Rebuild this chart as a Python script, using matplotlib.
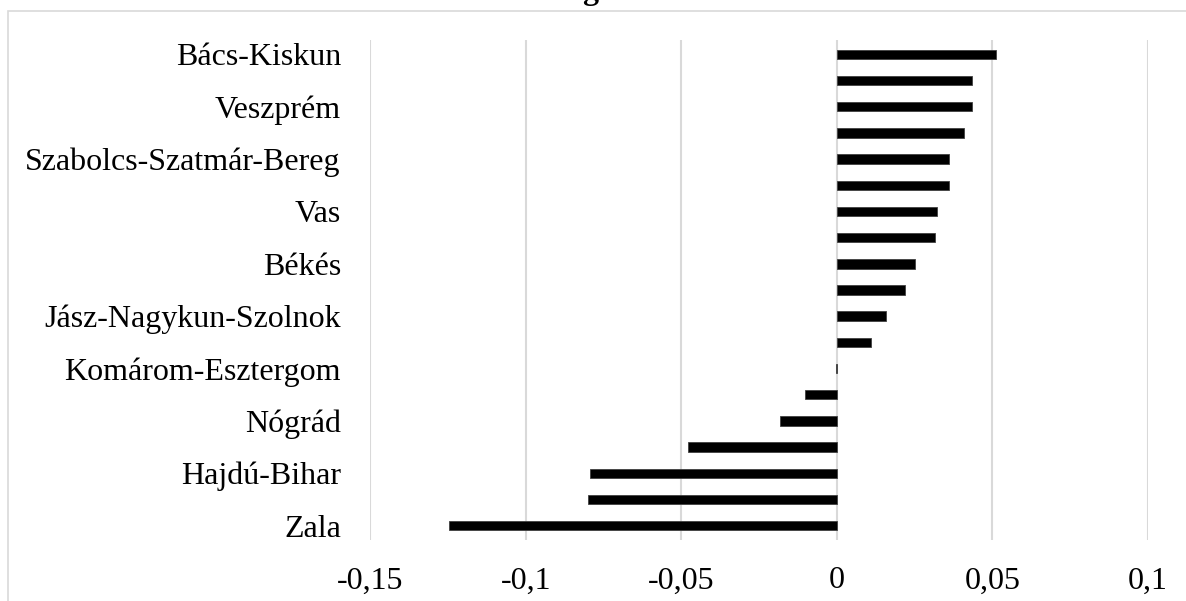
import matplotlib.pyplot as plt
from matplotlib.patches import Rectangle
from matplotlib.ticker import FuncFormatter

# categories top to bottom; only every other one is labelled in the original
labels = ["Bács-Kiskun", "", "Veszprém", "", "Szabolcs-Szatmár-Bereg", "",
          "Vas", "", "Békés", "", "Jász-Nagykun-Szolnok", "",
          "Komárom-Esztergom", "", "Nógrád", "", "Hajdú-Bihar", "", "Zala"]
values = [0.0513, 0.0433, 0.0433, 0.0409, 0.0362, 0.0362, 0.0321, 0.0317,
          0.0252, 0.0218, 0.0158, 0.0109, -0.0003, -0.0101, -0.0184,
          -0.0477, -0.0794, -0.0798, -0.1246]
xticks = [-0.15, -0.1, -0.05, 0, 0.05, 0.1]

plt.rcParams['font.family'] = ['Liberation Serif', 'DejaVu Serif']
plt.rcParams['font.size'] = 23

fig = plt.figure(figsize=(11.86, 6.01), dpi=100)
ax = fig.add_axes([0.312, 0.1015, 0.656, 0.832])

pos = list(range(len(values)))[::-1]
ax.barh(pos, values, height=0.36, color='black', edgecolor='#404040',
        linewidth=0.6, zorder=3)

ax.set_xlim(-0.15, 0.1)
ax.set_ylim(-0.55, len(values) - 0.45)
ax.set_xticks(xticks)
ax.xaxis.set_major_formatter(FuncFormatter(lambda v, _: ('%g' % v).replace('.', ',')))
ax.set_yticks(pos)
ax.set_yticklabels(labels)
ax.tick_params(axis='both', length=0)
ax.tick_params(axis='x', pad=19)
ax.tick_params(axis='y', pad=21)
ax.grid(axis='x', color='#d9d9d9', linewidth=1.5, zorder=0)
for s in ax.spines.values():
    s.set_visible(False)

# outer chart border (cropped on right and bottom)
fig.patches.append(Rectangle((8 / 1186, -0.1), 1.2, 1.1 - 11 / 601, transform=fig.transFigure,
                             fill=False, edgecolor='#d9d9d9', linewidth=1.2))
# cut-off bold title at the top edge
fig.text(590 / 1186, 1 + 1 / 601, 'g', ha='center', va='baseline', fontweight='bold')

fig.savefig('out.png', dpi=100)
